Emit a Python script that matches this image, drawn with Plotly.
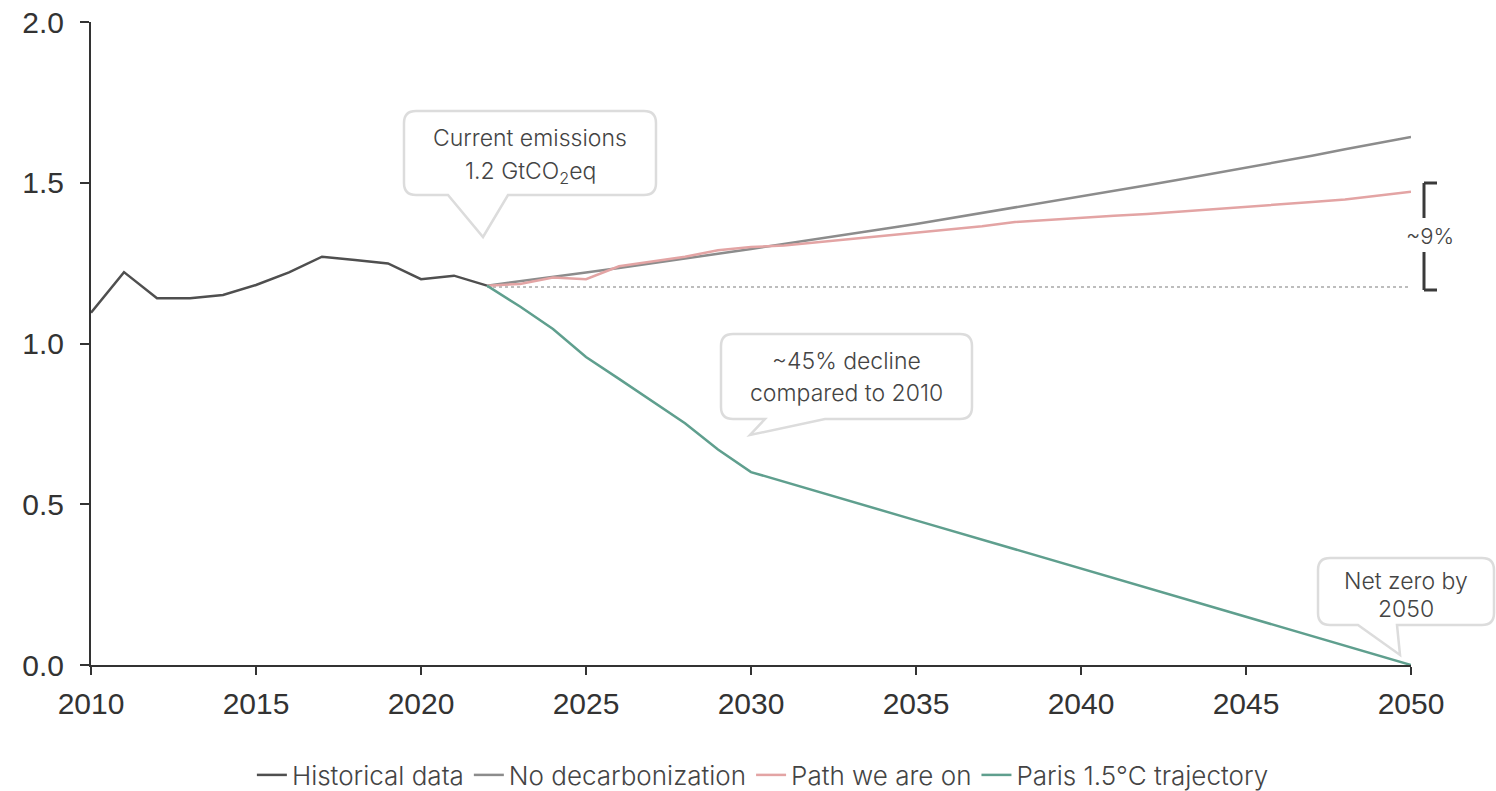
import plotly.graph_objects as go

# ---------------- data ----------------
hist_years = [2010, 2011, 2012, 2013, 2014, 2015, 2016, 2017, 2018, 2019, 2020, 2021, 2022]
hist_vals = [1.096, 1.222, 1.141, 1.141, 1.151, 1.182, 1.221, 1.270, 1.260, 1.249, 1.200, 1.211, 1.180]

proj_years = [2022, 2023, 2024, 2025, 2026, 2027, 2028, 2029, 2030, 2031, 2032, 2033, 2034, 2035,
              2036, 2037, 2038, 2039, 2040, 2041, 2042, 2043, 2044, 2045, 2046, 2047, 2048, 2049, 2050]
no_decarb = [1.180, 1.193, 1.207, 1.221, 1.235, 1.249, 1.264, 1.279, 1.294, 1.309, 1.325, 1.340,
             1.356, 1.372, 1.389, 1.405, 1.422, 1.439, 1.457, 1.474, 1.492, 1.510, 1.528, 1.547,
             1.566, 1.584, 1.604, 1.623, 1.642]
path_on = [1.180, 1.185, 1.205, 1.200, 1.240, 1.255, 1.270, 1.290, 1.300, 1.305, 1.315, 1.325,
           1.335, 1.345, 1.355, 1.365, 1.378, 1.385, 1.390, 1.397, 1.403, 1.410, 1.417, 1.425,
           1.432, 1.440, 1.448, 1.460, 1.472]

paris_years = [2022, 2023, 2024, 2025, 2026, 2027, 2028, 2029, 2030, 2035, 2040, 2045, 2050]
paris_vals = [1.180, 1.115, 1.045, 0.958, 0.890, 0.820, 0.752, 0.670, 0.600, 0.450, 0.300, 0.150, 0.0]

base_years = [2022, 2050]
base_vals = [1.176, 1.176]

x_ticks = [2010, 2015, 2020, 2025, 2030, 2035, 2040, 2045, 2050]
y_ticks = [0.0, 0.5, 1.0, 1.5, 2.0]

# ---------------- styling ----------------
C_HIST = "#4f4f4f"
C_NODEC = "#8c8c8c"
C_PATH = "#e3a4a4"
C_PARIS = "#5f9f8e"
TXT = "#444444"
ANN_FONT = "Inter"

W, H = 1496, 791
ML, MR, MT, MB = 91, 85, 22, 126
PW, PH = W - ML - MR, H - MT - MB


def px2paper(px, py):
    return (px - ML) / PW, (H - MB - py) / PH


fig = go.Figure()

fig.add_trace(go.Scatter(x=base_years, y=base_vals, mode="lines", showlegend=False,
                         line=dict(color="#bdbdbd", width=2, dash="dot"), hoverinfo="skip"))
fig.add_trace(go.Scatter(x=hist_years, y=hist_vals, mode="lines", name="Historical data",
                         line=dict(color=C_HIST, width=2.5)))
fig.add_trace(go.Scatter(x=proj_years, y=no_decarb, mode="lines", name="No decarbonization",
                         line=dict(color=C_NODEC, width=2.5)))
fig.add_trace(go.Scatter(x=proj_years, y=path_on, mode="lines", name="Path we are on",
                         line=dict(color=C_PATH, width=2.5)))
fig.add_trace(go.Scatter(x=paris_years, y=paris_vals, mode="lines", name="Paris 1.5°C trajectory",
                         line=dict(color=C_PARIS, width=2.5)))


def bubble(x0, y0, x1, y1, tail, r=12):
    bl, tx, ty, br = tail
    pts = [("M", [(x0 + r, y0)]), ("L", [(x1 - r, y0)]), ("Q", [(x1, y0), (x1, y0 + r)]),
           ("L", [(x1, y1 - r)]), ("Q", [(x1, y1), (x1 - r, y1)]),
           ("L", [(br, y1)]), ("L", [(tx, ty)]), ("L", [(bl, y1)]),
           ("L", [(x0 + r, y1)]), ("Q", [(x0, y1), (x0, y1 - r)]),
           ("L", [(x0, y0 + r)]), ("Q", [(x0, y0), (x0 + r, y0)])]
    s = ""
    for cmd, cs in pts:
        s += cmd + " " + " ".join("%.5f,%.5f" % px2paper(a, b) for a, b in cs) + " "
    s += "Z"
    return dict(type="path", xref="paper", yref="paper", path=s,
                line=dict(color="#dcdcdc", width=2.5), fillcolor="white", layer="above")


shapes = [
    bubble(404, 111, 656, 195, (448, 483, 237, 508)),
    bubble(721, 334, 972, 419, (765, 750, 435, 825)),
    bubble(1318, 558, 1494, 625, (1358, 1400, 655, 1397)),
]


def pline(xa, ya, xb, yb):
    a = px2paper(xa, ya)
    b = px2paper(xb, yb)
    return dict(type="line", xref="paper", yref="paper", x0=a[0], y0=a[1], x1=b[0], y1=b[1],
                line=dict(color="#3a3a3a", width=3))


shapes += [
    pline(1424, 183, 1437, 183),
    pline(1424, 183, 1424, 218),
    pline(1424, 252, 1424, 290),
    pline(1424, 290, 1437, 290),
]

annotations = []


def txt(text, px, py, size=23):
    x, y = px2paper(px, py)
    annotations.append(dict(text=text, x=x, y=y, xref="paper", yref="paper", showarrow=False,
                            xanchor="center", yanchor="middle",
                            font=dict(family=ANN_FONT, size=size, color=TXT, weight=300)))


txt("Current emissions", 530, 138)
txt("1.2 GtCO<sub>2</sub>eq", 530, 172)
txt("~45% decline", 846, 361)
txt("compared to 2010", 846, 393)
txt("Net zero by", 1406, 581)
txt("2050", 1406, 609)
txt("~9%", 1430, 236, 22)

fig.update_layout(
    width=W, height=H,
    margin=dict(l=ML, r=MR, t=MT, b=MB, autoexpand=False),
    paper_bgcolor="white", plot_bgcolor="white",
    shapes=shapes, annotations=annotations,
    showlegend=True,
    legend=dict(orientation="h", x=0.509, xanchor="center", y=(H - MB - 775) / PH, yanchor="middle",
                font=dict(family=ANN_FONT, size=26, color=TXT, weight=300),
                itemwidth=30, tracegroupgap=0),
    xaxis=dict(range=[2010, 2050], tickvals=x_ticks, ticktext=[str(v) for v in x_ticks],
               showgrid=False, zeroline=False, showline=True, linecolor="#333333", linewidth=2,
               ticks="outside", ticklen=8, tickwidth=2, tickcolor="#333333",
               ticklabelstandoff=3,
               tickfont=dict(family="Liberation Sans", size=30, color="#333333")),
    yaxis=dict(range=[0, 2.0], tickvals=y_ticks, ticktext=["%.1f" % v for v in y_ticks],
               showgrid=False, zeroline=False, showline=True, linecolor="#333333", linewidth=2,
               ticks="outside", ticklen=9, tickwidth=2, tickcolor="#333333",
               ticklabelstandoff=10,
               tickfont=dict(family="Liberation Sans", size=30, color="#333333")),
)

fig.write_html("out.html")
